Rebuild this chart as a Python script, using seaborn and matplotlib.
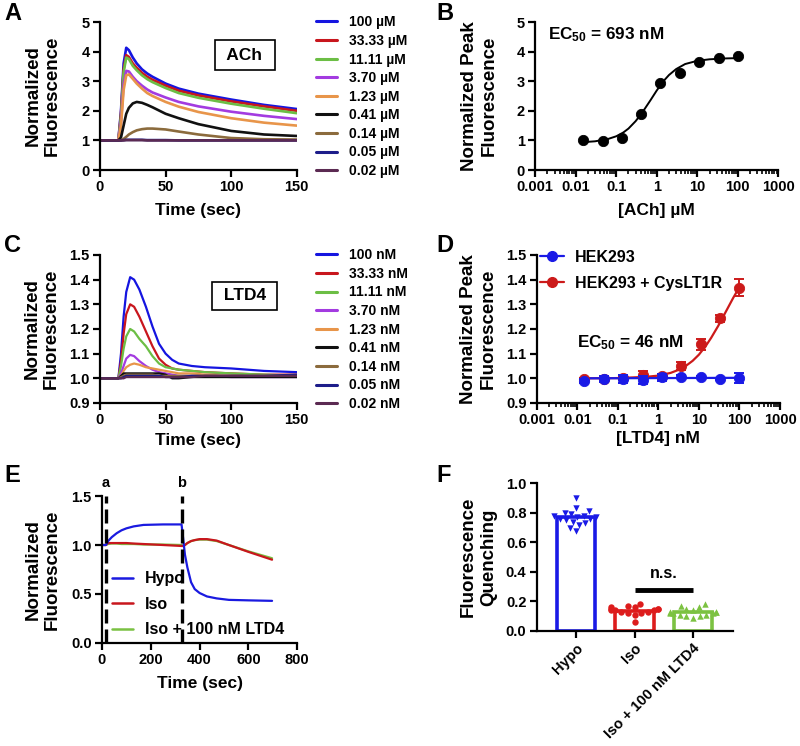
import numpy as np
import pandas as pd
import matplotlib
matplotlib.use("Agg")
import matplotlib.pyplot as plt
import seaborn as sns
from matplotlib.lines import Line2D
from matplotlib.ticker import (FixedLocator, FixedFormatter, LogLocator,
                               NullFormatter, MultipleLocator, FormatStrFormatter)
import matplotlib.transforms as mtransforms

# ---------------- data ----------------
# Panel A: ACh time courses
A_labels = ["100 µM", "33.33 µM", "11.11 µM", "3.70 µM", "1.23 µM",
            "0.41 µM", "0.14 µM", "0.05 µM", "0.02 µM"]
A_time = [0, 14, 16, 18, 20, 22, 25, 28, 32, 36, 40, 50, 60, 75, 100, 125, 150]
A_100 = [1, 1, 2.0, 3.6, 4.13, 4.05, 3.8, 3.6, 3.4, 3.26, 3.15, 2.92, 2.75, 2.58, 2.38, 2.2, 2.06]
A_33 = [1, 1, 1.9, 3.4, 3.88, 3.82, 3.6, 3.45, 3.28, 3.15, 3.05, 2.85, 2.68, 2.52, 2.32, 2.15, 2.0]
A_11 = [1, 1, 1.8, 3.3, 3.8, 3.75, 3.52, 3.37, 3.2, 3.07, 2.97, 2.77, 2.6, 2.44, 2.24, 2.07, 1.92]
A_3_70 = [1, 1, 1.6, 2.9, 3.35, 3.33, 3.15, 3.0, 2.85, 2.72, 2.62, 2.45, 2.3, 2.15, 1.97, 1.83, 1.72]
A_1_23 = [1, 1, 1.5, 2.7, 3.2, 3.23, 3.08, 2.92, 2.75, 2.6, 2.5, 2.3, 2.14, 1.96, 1.75, 1.6, 1.5]
A_0_41 = [1, 1, 1.1, 1.5, 1.9, 2.1, 2.25, 2.3, 2.27, 2.2, 2.12, 1.9, 1.75, 1.55, 1.32, 1.2, 1.15]
A_0_14 = [1, 1, 1.0, 1.05, 1.12, 1.2, 1.28, 1.34, 1.38, 1.4, 1.4, 1.37, 1.3, 1.2, 1.08, 1.04, 1.03]
A_0_05 = [1, 1, 1, 1.01, 1.02, 1.02, 1.02, 1.02, 1.02, 1.01, 1.01, 1.01, 1.0, 1.0, 1.0, 1.0, 1.0]
A_0_02 = [1, 1, 1, 1.0, 1.01, 1.01, 1.01, 1.01, 1.01, 1.0, 1.0, 1.0, 1.0, 1.0, 1.0, 1.0, 1.0]

# Panel B: ACh dose response
B_conc = [0.015, 0.046, 0.137, 0.41, 1.23, 3.7, 11.1, 33.3, 100]
B_peak = [1.0, 0.99, 1.08, 1.9, 2.93, 3.27, 3.65, 3.8, 3.85]
B_fit_x = [0.015, 0.03, 0.06, 0.1, 0.15, 0.2, 0.3, 0.4, 0.5, 0.7, 1.0, 1.5, 2, 3, 5, 10, 20, 50, 100]
B_fit_y = [0.94, 0.97, 1.04, 1.14, 1.27, 1.40, 1.65, 1.87, 2.06, 2.36, 2.69, 3.02, 3.21,
           3.41, 3.58, 3.69, 3.74, 3.77, 3.78]

# Panel C: LTD4 time courses
C_labels = ["100 nM", "33.33 nM", "11.11 nM", "3.70 nM", "1.23 nM",
            "0.41 nM", "0.14 nM", "0.05 nM", "0.02 nM"]
C_time = [0, 14, 16, 18, 20, 23, 26, 30, 35, 40, 45, 50, 55, 60, 70, 80, 100, 125, 150]
C_100 = [1.0, 1.0, 1.1, 1.25, 1.35, 1.41, 1.40, 1.36, 1.29, 1.21, 1.14, 1.10, 1.075, 1.06, 1.05, 1.045, 1.04, 1.03, 1.025]
C_33 = [1.0, 1.0, 1.07, 1.18, 1.26, 1.30, 1.29, 1.25, 1.19, 1.13, 1.08, 1.055, 1.04, 1.035, 1.03, 1.025, 1.02, 1.015, 1.015]
C_11 = [1.0, 1.0, 1.05, 1.12, 1.17, 1.20, 1.19, 1.16, 1.13, 1.09, 1.06, 1.045, 1.04, 1.035, 1.03, 1.025, 1.02, 1.015, 1.01]
C_3_70 = [1.0, 1.0, 1.02, 1.05, 1.08, 1.095, 1.09, 1.07, 1.05, 1.035, 1.025, 1.02, 1.015, 1.01, 1.01, 1.01, 1.005, 1.005, 1.005]
C_1_23 = [1.0, 1.0, 1.01, 1.03, 1.045, 1.055, 1.06, 1.055, 1.045, 1.04, 1.035, 1.03, 1.025, 1.02, 1.02, 1.015, 1.01, 1.01, 1.01]
C_0_41 = [1.0, 1.0, 1.01, 1.02, 1.02, 1.02, 1.02, 1.02, 1.02, 1.02, 1.02, 1.015, 1.0, 1.0, 1.005, 1.005, 1.005, 1.005, 1.005]
C_0_14 = [1.0, 1.0, 1.005, 1.01, 1.015, 1.015, 1.015, 1.015, 1.015, 1.015, 1.01, 1.01, 1.01, 1.01, 1.01, 1.01, 1.01, 1.01, 1.01]
C_0_05 = [1.0, 1.0, 1.0, 1.005, 1.01, 1.01, 1.01, 1.01, 1.01, 1.01, 1.01, 1.005, 1.005, 1.005, 1.01, 1.01, 1.01, 1.01, 1.015]
C_0_02 = [1.0, 1.0, 1.0, 1.0, 1.005, 1.005, 1.005, 1.005, 1.005, 1.005, 1.005, 1.005, 1.005, 1.005, 1.005, 1.01, 1.01, 1.01, 1.01]

# Panel D: LTD4 dose response
D_conc = [0.015, 0.046, 0.137, 0.41, 1.23, 3.7, 11.1, 33.3, 100]
D_red = [0.998, 0.997, 1.0, 1.013, 1.008, 1.05, 1.138, 1.243, 1.368]
D_red_err = [0.004, 0.005, 0.006, 0.015, 0.01, 0.015, 0.022, 0.015, 0.033]
D_blue = [0.988, 0.996, 0.997, 0.995, 1.005, 1.007, 1.004, 0.998, 1.003]
D_blue_err = [0.008, 0.012, 0.016, 0.016, 0.014, 0.005, 0.004, 0.004, 0.02]
D_fit_x = [0.015, 0.1, 0.5, 1, 2, 3, 5, 7, 10, 15, 20, 30, 50, 70, 100]
D_fit_red = [1.0, 1.001, 1.006, 1.011, 1.022, 1.033, 1.053, 1.071, 1.096, 1.133, 1.164,
             1.213, 1.281, 1.326, 1.37]
D_fit_blue_x = [0.015, 100]
D_fit_blue = [1.0, 1.002]
D_labels = ["HEK293", "HEK293 + CysLT1R"]

# Panel E: osmotic time courses
E_labels = ["Hypo", "Iso", "Iso + 100 nM LTD4"]
E_time = [0, 16, 25, 40, 60, 80, 100, 130, 170, 250, 326, 332, 340, 350, 365, 380, 400,
          430, 470, 520, 600, 697]
E_hypo = [1.0, 1.0, 1.04, 1.08, 1.12, 1.15, 1.17, 1.19, 1.205, 1.21, 1.21, 1.08, 0.9, 0.77,
          0.62, 0.55, 0.51, 0.475, 0.455, 0.44, 0.435, 0.43]
E_iso = [1.0, 1.0, 1.02, 1.02, 1.02, 1.02, 1.02, 1.015, 1.01, 1.0, 0.99, 0.99, 1.0, 1.02,
         1.04, 1.05, 1.06, 1.06, 1.045, 1.0, 0.93, 0.85]
E_ltd4 = [1.0, 1.0, 1.01, 1.015, 1.015, 1.01, 1.01, 1.01, 1.005, 1.005, 1.0, 0.99, 1.0, 1.02,
          1.04, 1.05, 1.055, 1.055, 1.04, 1.0, 0.935, 0.865]
E_marks = [16, 328]
E_mark_labels = ["a", "b"]

# Panel F: quenching
F_cats = ["Hypo", "Iso", "Iso + 100 nM LTD4"]
F_hypo = [0.90, 0.83, 0.81, 0.80, 0.79, 0.78, 0.78, 0.77, 0.77, 0.76, 0.76, 0.75, 0.74,
          0.73, 0.72, 0.70, 0.68]
F_iso = [0.18, 0.17, 0.16, 0.16, 0.15, 0.15, 0.15, 0.14, 0.14, 0.14, 0.13, 0.13, 0.12,
         0.12, 0.11, 0.06]
F_ltd4 = [0.18, 0.17, 0.16, 0.15, 0.14, 0.13, 0.13, 0.13, 0.12, 0.12, 0.12, 0.11, 0.11,
          0.10, 0.10, 0.09]
F_ns_y = 0.28

# ---------------- style ----------------
sns.set_theme(style="ticks")
plt.rcParams.update({
    "font.family": ["Liberation Sans", "DejaVu Sans"],
    "font.weight": "bold",
    "axes.labelweight": "bold",
    "axes.linewidth": 1.6,
    "axes.edgecolor": "black",
    "axes.labelcolor": "black",
    "text.color": "black",
    "xtick.color": "black", "ytick.color": "black",
    "xtick.major.width": 1.6, "ytick.major.width": 1.6,
    "xtick.major.size": 5, "ytick.major.size": 5,
    "xtick.minor.width": 1.2, "xtick.minor.size": 3,
    "xtick.major.pad": 2.5, "ytick.major.pad": 2.5,
    "xtick.labelsize": 10.5, "ytick.labelsize": 10.5,
    "axes.labelsize": 13,
    "mathtext.fontset": "custom",
    "mathtext.rm": "Liberation Sans:bold",
    "mathtext.it": "Liberation Sans:bold",
    "mathtext.bf": "Liberation Sans:bold",
})

A_colors = ["#1515e0", "#c8161d", "#6cbe45", "#a33be0", "#e8954a",
            "#111111", "#8b6b3d", "#1d1d8a", "#5b2a52"]

fig = plt.figure(figsize=(8, 7.46), dpi=100)
axA = fig.add_axes([0.125, 0.7721, 0.246, 0.1984])
axB = fig.add_axes([0.669, 0.7721, 0.304, 0.1984])
axC = fig.add_axes([0.125, 0.4598, 0.246, 0.1984])
axD = fig.add_axes([0.671, 0.4598, 0.304, 0.1984])
axE = fig.add_axes([0.1275, 0.1381, 0.244, 0.197])
axF = fig.add_axes([0.671, 0.1542, 0.245, 0.198])


def long_df(time, series, labels):
    rows = []
    for lab, vals in zip(labels, series):
        for t, v in zip(time, vals):
            rows.append((lab, t, v))
    return pd.DataFrame(rows, columns=["cond", "t", "v"])


def trace_legend(ax, labels, colors, fs):
    handles = [Line2D([], [], color=c, lw=2.2) for c in colors]
    ax.legend(handles, labels, loc="upper left", bbox_to_anchor=(1.1, 1.045),
              frameon=False, fontsize=fs, handlelength=1.45, handletextpad=0.9,
              labelspacing=0.33, borderpad=0, borderaxespad=0)


XL = 12.5
YL = 13.5

# ---------------- Panel A ----------------
dfA = long_df(A_time, [A_100, A_33, A_11, A_3_70, A_1_23, A_0_41, A_0_14, A_0_05, A_0_02], A_labels)
sns.lineplot(data=dfA, x="t", y="v", hue="cond", hue_order=A_labels, palette=A_colors,
             lw=1.9, ax=axA, legend=False, sort=False)
axA.set_xlim(0, 150)
axA.set_ylim(0, 5)
axA.xaxis.set_major_locator(MultipleLocator(50))
axA.yaxis.set_major_locator(MultipleLocator(1))
axA.set_xlabel("Time (sec)", fontsize=XL)
axA.set_ylabel("Normalized\nFluorescence", fontsize=YL)
trace_legend(axA, A_labels, A_colors, 10)
axA.text(0.736, 0.777, " ACh ", transform=axA.transAxes, ha="center", va="center",
         fontsize=12.5, bbox=dict(boxstyle="square,pad=0.42", fc="white", ec="black", lw=1.2))

# ---------------- Panel B ----------------
axB.set_xscale("log")
sns.lineplot(x=B_fit_x, y=B_fit_y, color="black", lw=1.4, ax=axB)
sns.scatterplot(x=B_conc, y=B_peak, color="black", s=55, edgecolor="black", ax=axB, zorder=3)
axB.set_xlim(1e-3, 1e3)
axB.set_ylim(0, 5)
axB.yaxis.set_major_locator(MultipleLocator(1))
axB.set_xlabel("[ACh] µM", fontsize=XL)
axB.set_ylabel("Normalized Peak\nFluorescence", fontsize=YL)
axB.text(0.053, 0.912, "EC$_{50}$ = 693 nM", transform=axB.transAxes, ha="left",
         va="center", fontsize=12.3)

# ---------------- Panel C ----------------
dfC = long_df(C_time, [C_100, C_33, C_11, C_3_70, C_1_23, C_0_41, C_0_14, C_0_05, C_0_02], C_labels)
sns.lineplot(data=dfC, x="t", y="v", hue="cond", hue_order=C_labels, palette=A_colors,
             lw=1.6, ax=axC, legend=False, sort=False)
axC.set_xlim(0, 150)
axC.set_ylim(0.9, 1.5)
axC.xaxis.set_major_locator(MultipleLocator(50))
axC.yaxis.set_major_locator(MultipleLocator(0.1))
axC.yaxis.set_major_formatter(FormatStrFormatter("%.1f"))
axC.set_xlabel("Time (sec)", fontsize=XL)
axC.set_ylabel("Normalized\nFluorescence", fontsize=YL)
trace_legend(axC, C_labels, A_colors, 10)
axC.text(0.736, 0.723, " LTD4 ", transform=axC.transAxes, ha="center", va="center",
         fontsize=12.5, bbox=dict(boxstyle="square,pad=0.38", fc="white", ec="black", lw=1.2))

# ---------------- Panel D ----------------
D_blue_c = "#1a1ae6"
D_red_c = "#cc1a1a"
axD.set_xscale("log")
sns.lineplot(x=D_fit_x, y=D_fit_red, color=D_red_c, lw=1.6, ax=axD)
sns.lineplot(x=D_fit_blue_x, y=D_fit_blue, color=D_blue_c, lw=1.6, ax=axD)
axD.errorbar(D_conc, D_red, yerr=D_red_err, fmt="none", ecolor=D_red_c, elinewidth=1.4,
             capsize=3.5, capthick=1.4, zorder=3)
sns.scatterplot(x=D_conc, y=D_red, color=D_red_c, s=55, edgecolor=D_red_c, ax=axD, zorder=4)
axD.errorbar(D_conc, D_blue, yerr=D_blue_err, fmt="none", ecolor=D_blue_c, elinewidth=1.4,
             capsize=3.5, capthick=1.4, zorder=5)
sns.scatterplot(x=D_conc, y=D_blue, color=D_blue_c, s=55, edgecolor=D_blue_c, ax=axD, zorder=6)
axD.set_xlim(1e-3, 1e3)
axD.set_ylim(0.9, 1.5)
axD.yaxis.set_major_locator(MultipleLocator(0.1))
axD.yaxis.set_major_formatter(FormatStrFormatter("%.1f"))
axD.set_xlabel("[LTD4] nM", fontsize=XL)
axD.set_ylabel("Normalized Peak\nFluorescence", fontsize=YL)
axD.text(0.165, 0.405, "EC$_{50}$ = 46 nM", transform=axD.transAxes, ha="left",
         va="center", fontsize=12.3)
hD = [Line2D([], [], color=c, lw=1.6, marker="o", ms=7) for c in (D_blue_c, D_red_c)]
axD.legend(hD, D_labels, loc="upper left", bbox_to_anchor=(0.012, 1.035), frameon=False,
           fontsize=11.5, handlelength=1.55, handletextpad=0.65, labelspacing=0.7,
           borderpad=0, borderaxespad=0)

for ax in (axB, axD):
    ax.xaxis.set_major_locator(FixedLocator([1e-3, 1e-2, 1e-1, 1, 10, 100, 1000]))
    ax.xaxis.set_major_formatter(FixedFormatter(["0.001", "0.01", "0.1", "1", "10", "100", "1000"]))
    ax.xaxis.set_minor_locator(LogLocator(base=10, subs=np.arange(2, 10), numticks=20))
    ax.xaxis.set_minor_formatter(NullFormatter())

# ---------------- Panel E ----------------
E_colors = ["#1a1ae0", "#c8161d", "#7ac143"]
dfE = long_df(E_time, [E_hypo, E_iso, E_ltd4], E_labels)
sns.lineplot(data=dfE, x="t", y="v", hue="cond", hue_order=E_labels, palette=E_colors,
             lw=1.6, ax=axE, legend=False, sort=False)
axE.lines[2].set_zorder(1.5)
axE.lines[1].set_zorder(2.2)
axE.lines[0].set_zorder(2.4)
for xm, lab in zip(E_marks, E_mark_labels):
    axE.axvline(xm, ymin=0, ymax=1, color="black", lw=2.4, dashes=(4.2, 1.8), zorder=3)
    axE.text(xm, 1.09, lab, transform=mtransforms.blended_transform_factory(axE.transData, axE.transAxes),
             ha="center", va="center", fontsize=10.5)
axE.set_xlim(0, 800)
axE.set_ylim(0, 1.5)
axE.xaxis.set_major_locator(MultipleLocator(200))
axE.yaxis.set_major_locator(MultipleLocator(0.5))
axE.yaxis.set_major_formatter(FormatStrFormatter("%.1f"))
axE.set_xlabel("Time (sec)", fontsize=XL)
axE.set_ylabel("Normalized\nFluorescence", fontsize=YL)
hE = [Line2D([], [], color=c, lw=1.8) for c in E_colors]
axE.legend(hE, E_labels, loc="lower left", bbox_to_anchor=(0.05, 0.04), frameon=False,
           fontsize=11.5, handlelength=1.35, handletextpad=0.7, labelspacing=0.65,
           borderpad=0, borderaxespad=0)

# ---------------- Panel F ----------------
F_colors = ["#1a1ae6", "#dd1c1c", "#7cc242"]
dfF = pd.DataFrame({
    "grp": [F_cats[0]] * len(F_hypo) + [F_cats[1]] * len(F_iso) + [F_cats[2]] * len(F_ltd4),
    "val": F_hypo + F_iso + F_ltd4,
})
sns.barplot(data=dfF, x="grp", y="val", hue="grp", order=F_cats, hue_order=F_cats,
            palette=F_colors, fill=False, errorbar=None, width=0.65, linewidth=2.6,
            legend=False, ax=axF)
for cat, col, mk in zip(F_cats, F_colors, ["v", "o", "^"]):
    sns.swarmplot(data=dfF[dfF["grp"] == cat], x="grp", y="val", order=F_cats, color=col,
                  marker=mk, size=4.6, ax=axF, zorder=4)
axF.plot([1, 2], [F_ns_y, F_ns_y], color="black", lw=3.5, solid_capstyle="butt")
axF.text(1.5, F_ns_y + 0.11, "n.s.", ha="center", va="center", fontsize=11.5)
axF.set_xlim(-0.67, 2.68)
axF.set_ylim(0, 1.0)
axF.yaxis.set_major_locator(MultipleLocator(0.2))
axF.yaxis.set_major_formatter(FormatStrFormatter("%.1f"))
axF.set_xlabel("")
axF.set_ylabel("Fluorescence\nQuenching", fontsize=YL)
axF.set_xticks(range(3))
axF.set_xticklabels(F_cats, rotation=45, ha="right", rotation_mode="anchor", fontsize=10.5)

# ---------------- common ----------------
for ax in (axA, axB, axC, axD, axE, axF):
    sns.despine(ax=ax)
    ax.tick_params(which="both", direction="out")
    ax.grid(False)

axA.yaxis.set_label_coords(-0.198, 0.5)
axB.yaxis.set_label_coords(-0.156, 0.5)
axC.yaxis.set_label_coords(-0.203, 0.5)
axD.yaxis.set_label_coords(-0.165, 0.5)
axE.yaxis.set_label_coords(-0.21, 0.5)
axF.yaxis.set_label_coords(-0.204, 0.5)
axA.xaxis.set_label_coords(0.5, -0.22)
axB.xaxis.set_label_coords(0.5, -0.22)
axC.xaxis.set_label_coords(0.5, -0.20)
axD.xaxis.set_label_coords(0.5, -0.19)
axE.xaxis.set_label_coords(0.5, -0.228)

for lab, (x, y) in zip("ABCDEF", [(4, 13), (436, 13), (4, 245), (436, 245), (4, 475), (436, 475)]):
    fig.text(x / 800, 1 - y / 746, lab, ha="left", va="center", fontsize=17, fontweight="bold")

fig.savefig("out.png", dpi=100)
